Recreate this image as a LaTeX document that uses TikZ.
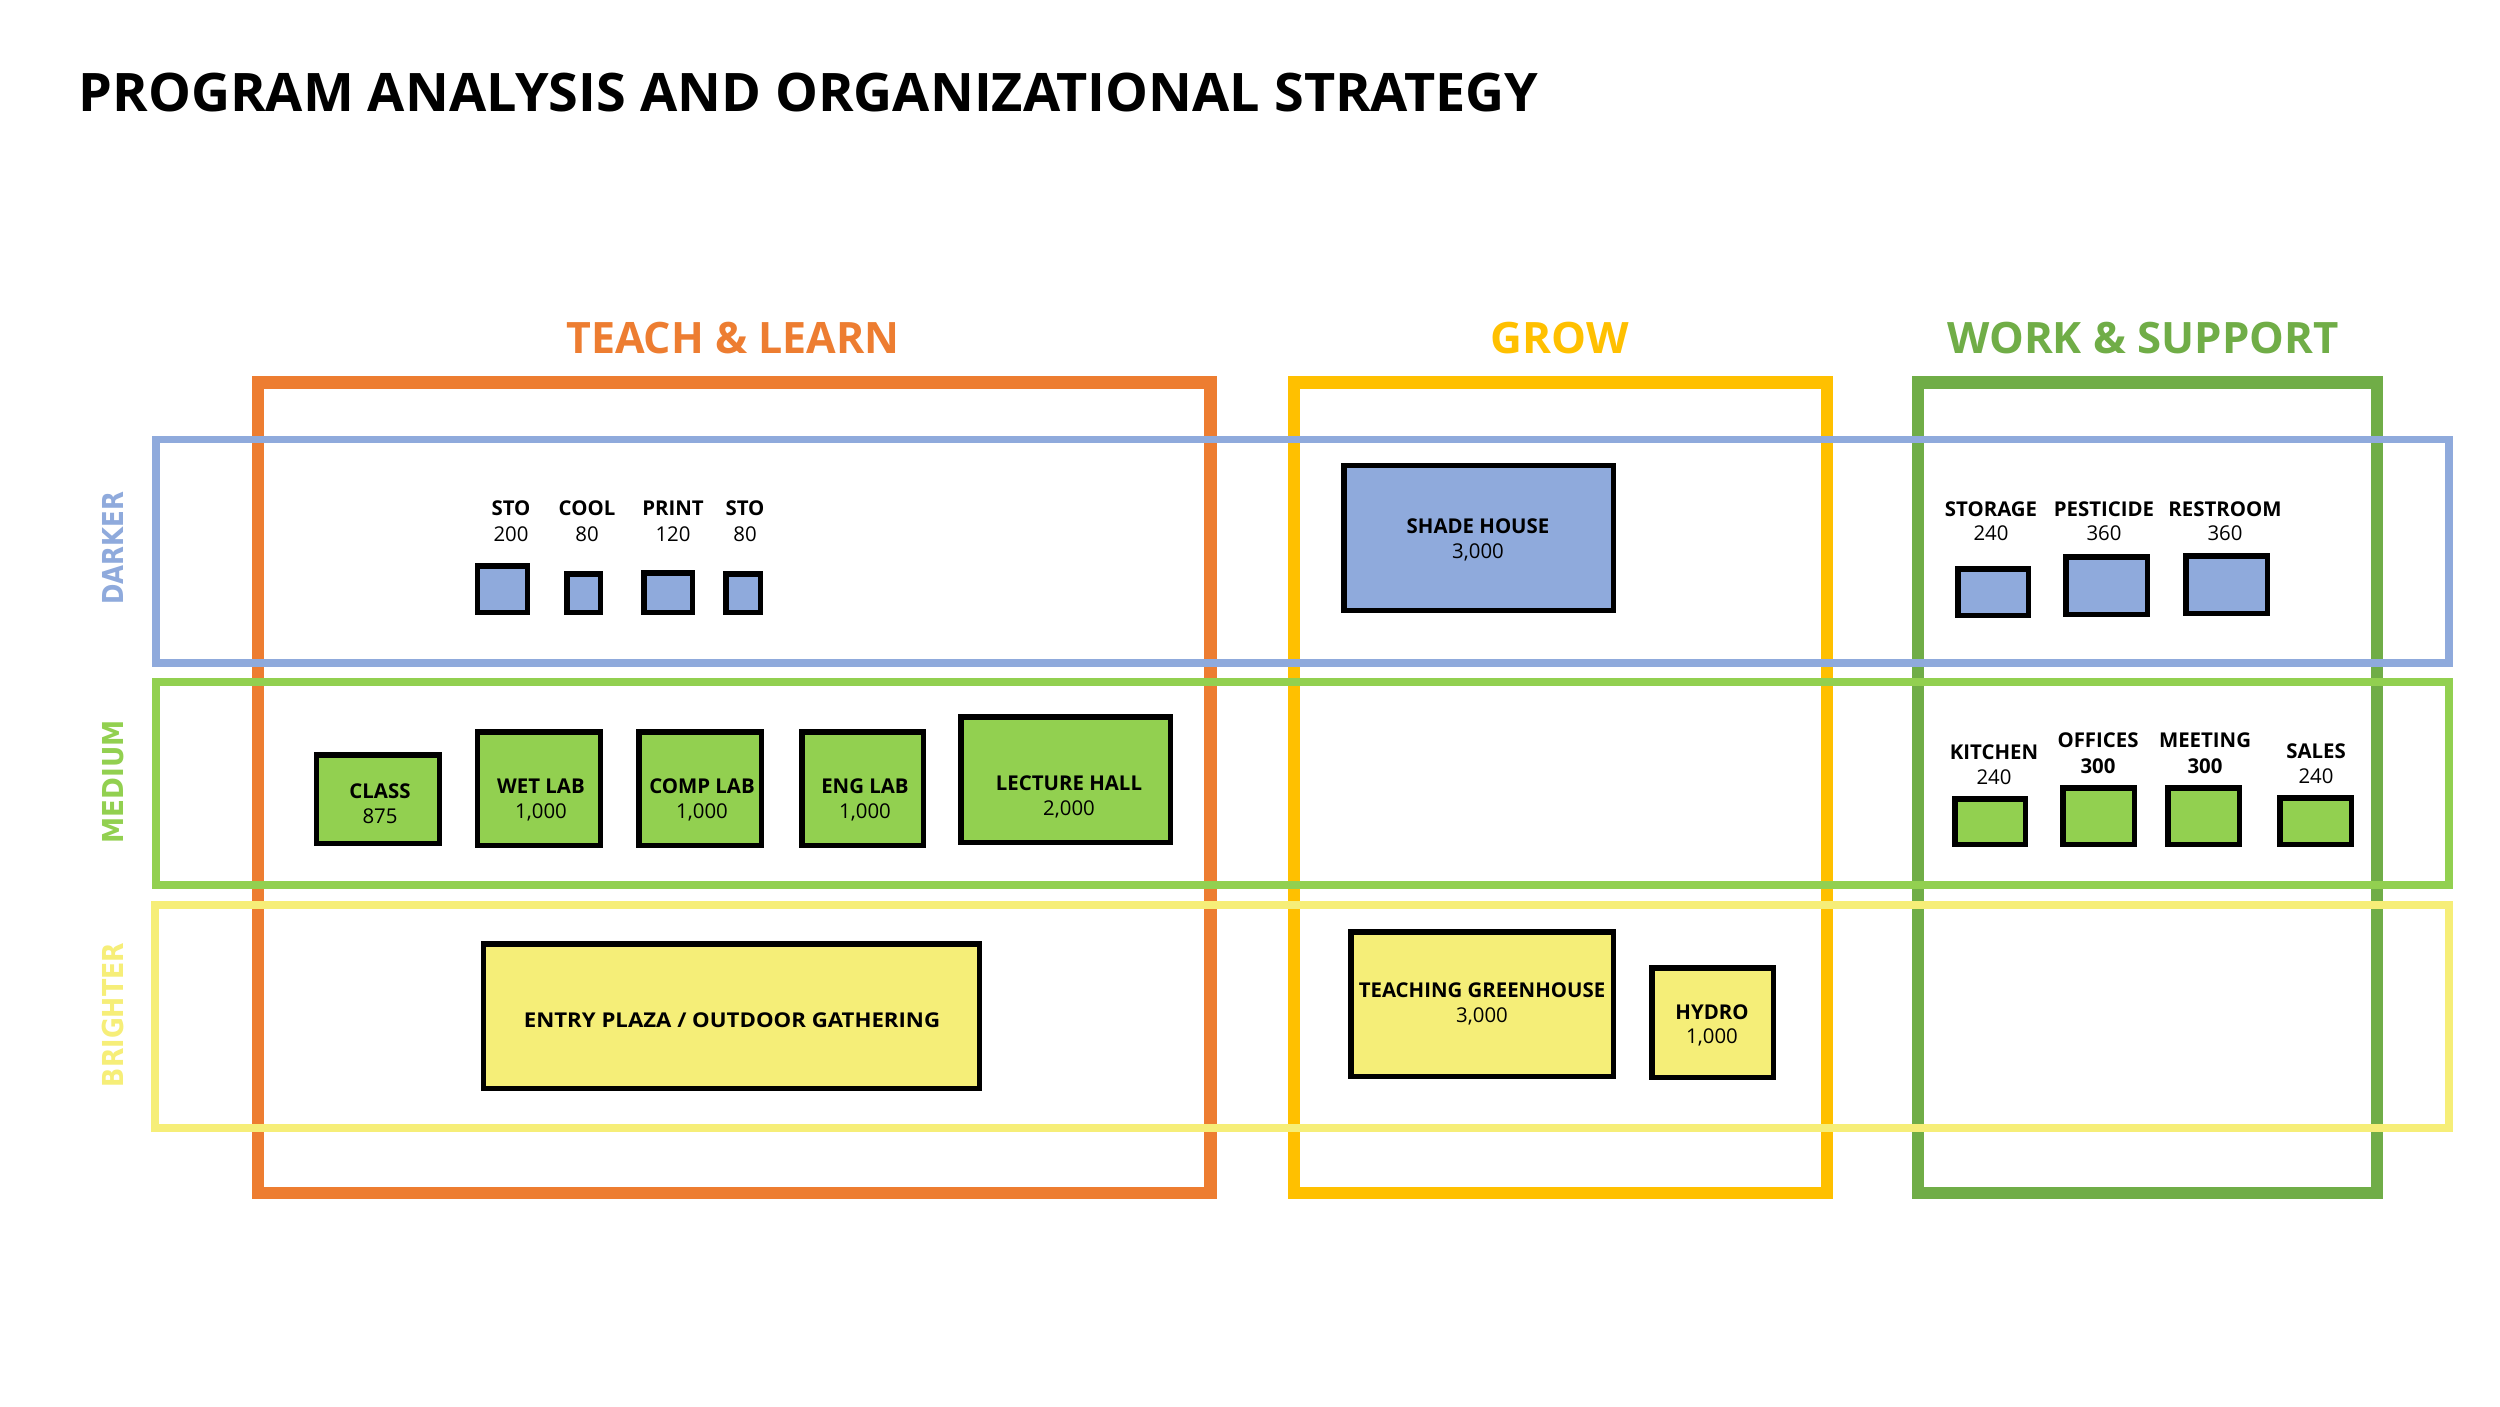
\documentclass[tikz,border=0pt]{standalone}
\usepackage{fontspec}
\usepackage{graphicx}
\setmainfont{Open Sans}
\newfontfamily\sidefont{DejaVu Sans}
\definecolor{cOrange}{HTML}{ED7D31}
\definecolor{cGold}{HTML}{FFC000}
\definecolor{cGreenD}{HTML}{70AD47}
\definecolor{cBlue}{HTML}{8FAADC}
\definecolor{cGreenL}{HTML}{92D050}
\definecolor{cYellowB}{HTML}{F6EE78}
\definecolor{cYellowF}{HTML}{F5EE78}
\newcommand\room[5]{\draw[room,fill=#5] ({#1+2.75},{#2+2.75}) rectangle ({#3-2.75},{#4-2.75});}
\newcommand\fitw[2]{\resizebox{#1}{\height}{#2}}
\begin{document}
\begin{tikzpicture}[x=0.01cm,y=-0.01cm,
  frame/.style={line width=3.54pt},
  band/.style={line width=2.27pt},
  room/.style={draw=black,line width=1.56pt},
  lbl/.style={font=\fontsize{5.8}{7}\selectfont\bfseries,inner sep=0,anchor=base},
  num/.style={font=\fontsize{5.8}{7}\selectfont,inner sep=0,anchor=base},
  head/.style={font=\fontsize{12.3}{14}\selectfont\bfseries,inner sep=0,anchor=base},
  side/.style={font=\fontsize{8.2}{10}\selectfont\sidefont\bfseries,inner sep=0,rotate=90}]
\useasboundingbox[fill=white] (0,0) rectangle (2500,1406);
\node[font=\fontsize{15.1}{18}\selectfont\bfseries,inner sep=0,anchor=base west] (title) at (78,111) {\fitw{14.59cm}{PROGRAM ANALYSIS AND ORGANIZATIONAL STRATEGY}};
\node[head,text=cOrange] (hteach) at (733,353) {\fitw{3.33cm}{TEACH \& LEARN}};
\node[head,text=cGold] (hgrow) at (1560,353) {\fitw{1.38cm}{GROW}};
\node[head,text=cGreenD] (hwork) at (2143,353) {\fitw{3.91cm}{WORK \& SUPPORT}};
% frames
\draw[frame,cOrange] (258,382.7) rectangle (1210.5,1193);
\draw[frame,cGold] (1294,382.7) rectangle (1827,1193);
\draw[frame,cGreenD] (1918,382.7) rectangle (2377,1193);
% bands
\draw[band,cBlue] (156,439.5) rectangle (2449,663);
\draw[band,cGreenL] (156,681.5) rectangle (2449,884.5);
\draw[band,cYellowB] (155,904.5) rectangle (2449,1128);
% side labels
\node[side,text=cBlue] (sdark) at (113,548) {\fitw{1.13cm}{DARKER}};
\node[side,text=cGreenL] (smed) at (113,782) {\fitw{1.23cm}{MEDIUM}};
\node[side,text=cYellowB] (sbright) at (113,1015) {\fitw{1.44cm}{BRIGHTER}};
% teach darker
\room{475}{563}{530}{615}{cBlue}
\room{564}{571}{603}{615}{cBlue}
\room{641}{570}{695}{615}{cBlue}
\room{723}{571}{763}{615}{cBlue}
\node[lbl] (l1) at (511,515) {STO};   \node[num] (n1) at (511,541) {200};
\node[lbl] (l2) at (587,515) {COOL};  \node[num] (n2) at (587,541) {80};
\node[lbl] (l3) at (673,515) {PRINT}; \node[num] (n3) at (673,541) {120};
\node[lbl] (l4) at (745,515) {STO};   \node[num] (n4) at (745,541) {80};
% teach medium
\room{314}{752}{442}{846}{cGreenL}
\room{475}{729}{603}{848}{cGreenL}
\room{636}{729}{764}{848}{cGreenL}
\room{799}{729}{926}{848}{cGreenL}
\room{958}{714}{1173}{845}{cGreenL}
\node[lbl] (l5) at (380,798) {CLASS};   \node[num] (n5) at (380,823) {875};
\node[lbl] (l6) at (541,793) {WET LAB}; \node[num] (n6) at (541,818) {1,000};
\node[lbl] (l7) at (702,793) {COMP LAB};\node[num] (n7) at (702,818) {1,000};
\node[lbl] (l8) at (865,793) {ENG LAB}; \node[num] (n8) at (865,818) {1,000};
\node[lbl] (l9) at (1069,790) {LECTURE HALL}; \node[num] (n9) at (1069,815) {2,000};
% teach bright
\room{481}{941}{982}{1091}{cYellowF}
\node[lbl] (l10) at (732,1027) {\fitw{4.16cm}{ENTRY PLAZA / OUTDOOR GATHERING}};
% grow
\room{1341}{463}{1616}{613}{cBlue}
\node[lbl] (l11) at (1478,533) {SHADE HOUSE}; \node[num] (n11) at (1478,558) {3,000};
\room{1348}{929}{1616}{1079}{cYellowF}
\node[lbl] (l12) at (1482,997) {TEACHING GREENHOUSE}; \node[num] (n12) at (1482,1022) {3,000};
\room{1649}{965}{1776}{1080}{cYellowF}
\node[lbl] (l13) at (1712,1019) {HYDRO}; \node[num] (n13) at (1712,1043) {1,000};
% work darker
\room{1955}{566}{2031}{618}{cBlue}
\room{2063}{554}{2150}{617}{cBlue}
\room{2183}{553}{2270}{616}{cBlue}
\node[lbl] (l14) at (1991,516) {STORAGE};   \node[num] (n14) at (1991,540) {240};
\node[lbl] (l15) at (2104,516) {PESTICIDE}; \node[num] (n15) at (2104,540) {360};
\node[lbl] (l16) at (2225,516) {RESTROOM};  \node[num] (n16) at (2225,540) {360};
% work medium
\room{1952}{796}{2028}{847}{cGreenL}
\room{2060}{785}{2137}{847}{cGreenL}
\room{2165}{785}{2242}{847}{cGreenL}
\room{2277}{795}{2354}{847}{cGreenL}
\node[lbl] (l17) at (1994,759) {KITCHEN}; \node[num] (n17) at (1994,784) {240};
\node[lbl] (l18) at (2098,747) {OFFICES}; \node[lbl] (n18) at (2098,773) {300};
\node[lbl] (l19) at (2205,747) {MEETING}; \node[lbl] (n19) at (2205,773) {300};
\node[lbl] (l20) at (2316,758) {SALES};   \node[num] (n20) at (2316,783) {240};
\end{tikzpicture}
\end{document}
